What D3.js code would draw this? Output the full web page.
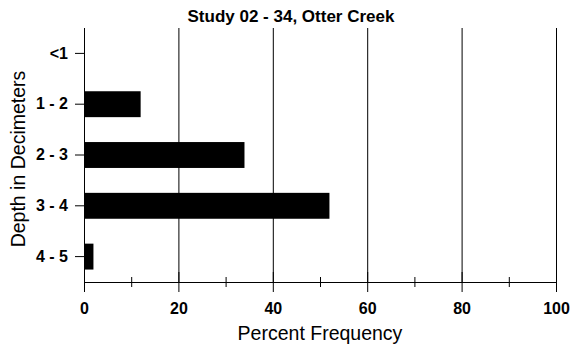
<!DOCTYPE html>
<html>
<head>
<meta charset="utf-8">
<script src="https://cdn.jsdelivr.net/npm/d3@7"></script>
<style>
  body { margin: 0; background: #fff; }
  svg { display: block; font-family: "Liberation Sans", Arial, sans-serif; }
</style>
</head>
<body>
<div class="graph"></div>
<script>
const categories = ["<1", "1 - 2", "2 - 3", "3 - 4", "4 - 5"];
const values = [0, 12, 34, 52, 2];
const xTicks = [0, 20, 40, 60, 80, 100];
const xMinorTicks = [10, 30, 50, 70, 90];
const gridTicks = [20, 40, 60, 80, 100];

const WIDTH = 572, HEIGHT = 348;
const LEFT = 84, RIGHT = 556, TOP = 28, BOTTOM = 282;

var svg = d3.select(".graph").append("svg")
    .attr("width", WIDTH)
    .attr("height", HEIGHT);

var x = d3.scaleLinear().domain([0, 100]).range([LEFT, RIGHT]);
var y = d3.scaleBand().domain(categories).range([TOP, BOTTOM])
    .paddingInner(0.49).paddingOuter(0.245);

// vertical grid lines
svg.append("g").selectAll("line")
    .data(gridTicks)
    .join("line")
    .attr("x1", d => x(d) + 0.5).attr("x2", d => x(d) + 0.5)
    .attr("y1", TOP).attr("y2", BOTTOM)
    .attr("stroke", "#000").attr("stroke-width", 1);

// bars
svg.append("g").selectAll("rect")
    .data(values)
    .join("rect")
    .attr("x", x(0))
    .attr("y", (d, i) => y(categories[i]))
    .attr("width", d => x(d) - x(0))
    .attr("height", y.bandwidth())
    .attr("fill", "#000");

// x axis (major ticks cross the line)
var xAxis = svg.append("g")
    .attr("transform", "translate(0," + BOTTOM + ")")
    .call(d3.axisBottom(x).tickValues(xTicks).tickSizeOuter(0).tickFormat(d3.format("d")));
xAxis.selectAll(".tick line").attr("y1", -10).attr("y2", 10);
xAxis.selectAll(".tick text")
    .attr("y", 32).attr("dy", 0)
    .style("font-size", "16px").style("font-weight", "bold").style("font-family", "inherit");

// minor ticks
svg.append("g")
    .attr("transform", "translate(0," + BOTTOM + ")")
    .selectAll("line")
    .data(xMinorTicks)
    .join("line")
    .attr("x1", d => x(d) + 0.5).attr("x2", d => x(d) + 0.5)
    .attr("y1", -5).attr("y2", 5)
    .attr("stroke", "#000");

// y axis
var yAxis = svg.append("g")
    .attr("transform", "translate(" + LEFT + ",0)")
    .call(d3.axisLeft(y).tickSizeOuter(0).tickSize(9).tickPadding(7));
yAxis.select(".domain").attr("d", "M0.5," + TOP + "V" + BOTTOM);
yAxis.selectAll(".tick text")
    .style("font-size", "16px").style("font-weight", "bold").style("font-family", "inherit");

// title
svg.append("text")
    .attr("x", 291).attr("y", 22)
    .attr("text-anchor", "middle")
    .style("font-size", "17px").style("font-weight", "bold")
    .text("Study 02 - 34, Otter Creek");

// axis titles
svg.append("text")
    .attr("x", 320).attr("y", 340)
    .attr("text-anchor", "middle")
    .style("font-size", "19.5px")
    .text("Percent Frequency");

svg.append("text")
    .attr("transform", "translate(25,159) rotate(-90)")
    .attr("text-anchor", "middle")
    .style("font-size", "19.5px")
    .text("Depth in Decimeters");
</script>
</body>
</html>
